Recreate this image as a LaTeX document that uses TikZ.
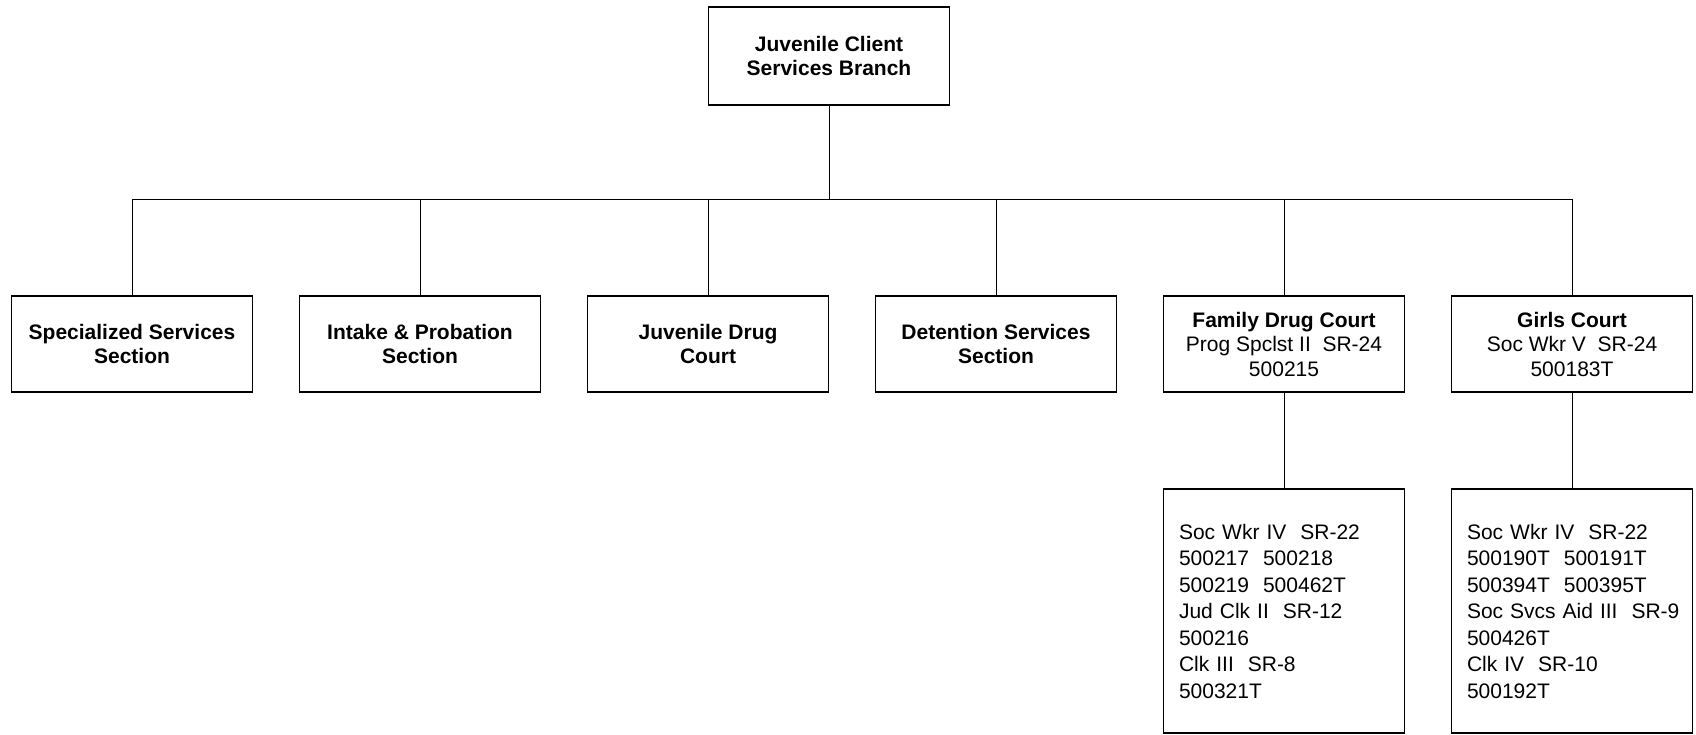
\documentclass[tikz,border=0pt]{standalone}
\usepackage{fontspec}
\setmainfont{Liberation Sans}
\begin{document}
\begin{tikzpicture}[x=1pt,y=-1pt,
  box/.style={draw, line width=1.8pt, minimum width=241pt, minimum height=96pt, inner sep=0pt, align=center, font=\fontsize{21}{24.5}\selectfont},
  listbox/.style={draw, line width=1.8pt, minimum width=241pt, minimum height=244pt, inner xsep=15.5pt, inner ysep=10pt, text width=210pt, align=left, font=\fontsize{21}{26.5}\selectfont},
  link/.style={line width=1pt}]
\useasboundingbox (0,0) rectangle (1696,735);
\node[box, minimum height=98pt] (top) at (829,56) {\textbf{Juvenile Client}\\\textbf{Services Branch}};
\node[box] (c1) at (132,344) {\textbf{Specialized Services}\\\textbf{Section}};
\node[box] (c2) at (420,344) {\textbf{Intake \& Probation}\\\textbf{Section}};
\node[box] (c3) at (708,344) {\textbf{Juvenile Drug}\\\textbf{Court}};
\node[box] (c4) at (996,344) {\textbf{Detention Services}\\\textbf{Section}};
\node[box] (c5) at (1284,344) {\textbf{Family Drug Court}\\Prog Spclst II\ \ SR-24\\500215};
\node[box] (c6) at (1572,344) {\textbf{Girls Court}\\Soc Wkr V\ \ SR-24\\500183T};
\node[listbox] (d5) at (1284,611) {Soc Wkr IV\ \ SR-22\\500217\ \ 500218\\500219\ \ 500462T\\Jud Clk II\ \ SR-12\\500216\\Clk III\ \ SR-8\\500321T};
\node[listbox] (d6) at (1572,611) {Soc Wkr IV\ \ SR-22\\500190T\ \ 500191T\\500394T\ \ 500395T\\\mbox{Soc Svcs Aid III\ \ SR-9}\\500426T\\Clk IV\ \ SR-10\\500192T};
\coordinate (bus) at (829,200);
\draw[link] (top.south) -- (bus);
\draw[link] (c1.north) -- (c1.north |- bus) -- (c6.north |- bus) -- (c6.north);
\draw[link] (c2.north) -- (c2.north |- bus);
\draw[link] (c3.north) -- (c3.north |- bus);
\draw[link] (c4.north) -- (c4.north |- bus);
\draw[link] (c5.north) -- (c5.north |- bus);
\draw[link] (c5.south) -- (d5.north);
\draw[link] (c6.south) -- (d6.north);
\end{tikzpicture}
\end{document}
